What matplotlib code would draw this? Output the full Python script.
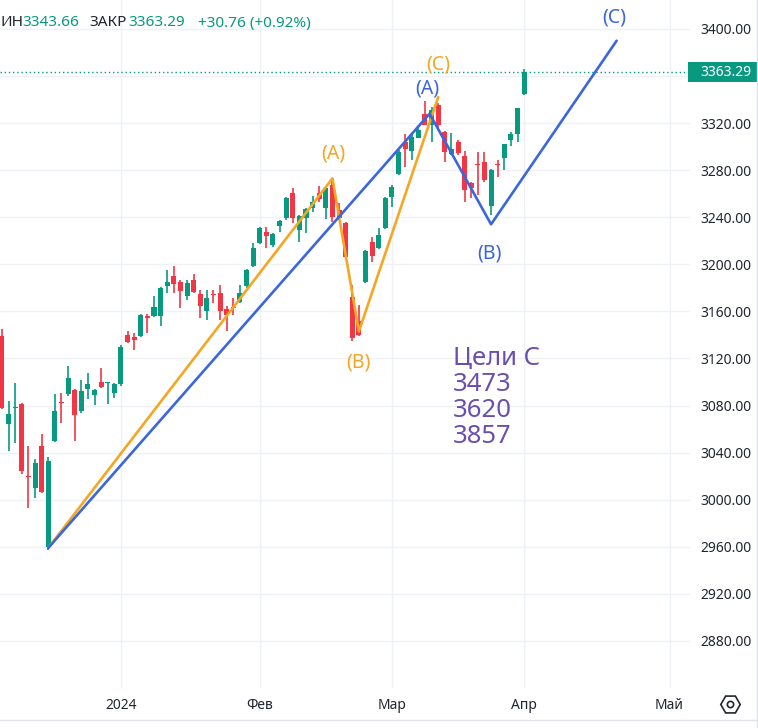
import matplotlib
matplotlib.use('Agg')
import matplotlib.pyplot as plt
from matplotlib import transforms
from matplotlib.lines import Line2D
from matplotlib.patches import Rectangle
import numpy as np

plt.rcParams['font.family'] = ['Noto Sans', 'DejaVu Sans']

# ---------------- data ----------------
opens = [3138.8, 3064.5, 3078.0, 3080.9, 3020.0, 3010.3, 3045.6, 2960.0, 3049.8, 3083.0,
         3089.4, 3093.0, 3075.3, 3093.9, 3088.8, 3099.8, 3099.2, 3090.8, 3098.4, 3139.7,
         3138.2, 3138.8, 3155.5, 3155.8, 3155.8, 3181.2, 3189.7, 3185.4, 3172.7, 3186.8,
         3175.0, 3160.0, 3174.8, 3175.5, 3162.3, 3163.5, 3167.9, 3181.2, 3199.0, 3217.9,
         3227.8, 3216.5, 3232.9, 3239.0, 3260.3, 3229.2, 3239.7, 3247.5, 3260.3, 3247.5,
         3267.4, 3246.2, 3234.8, 3171.9, 3151.5, 3184.8, 3219.3, 3213.6, 3230.6, 3257.5,
         3276.7, 3304.1, 3296.4, 3307.7, 3327.5, 3318.2, 3335.2, 3312.5, 3293.6, 3304.1,
         3292.2, 3269.3, 3285.2, 3287.1, 3249.6, 3285.2, 3290.0, 3306.0, 3311.1, 3344.5]
highs = [3144.7, 3083.7, 3099.2, 3082.0, 3045.6, 3034.6, 3056.0, 3036.5, 3089.4, 3090.8,
         3113.4, 3094.0, 3101.5, 3107.5, 3094.0, 3111.7, 3100.2, 3099.2, 3131.8, 3143.0,
         3141.6, 3158.0, 3157.7, 3172.7, 3180.5, 3195.3, 3199.0, 3186.8, 3186.8, 3191.6,
         3178.4, 3178.4, 3178.4, 3182.6, 3164.2, 3171.3, 3182.6, 3196.0, 3217.9, 3232.0,
         3232.0, 3227.0, 3237.5, 3257.5, 3264.5, 3242.0, 3247.5, 3258.3, 3266.5, 3266.0,
         3273.0, 3251.8, 3236.0, 3182.6, 3165.7, 3212.0, 3223.6, 3230.6, 3257.5, 3267.4,
         3297.0, 3310.6, 3310.6, 3316.8, 3338.6, 3333.7, 3336.7, 3313.0, 3311.7, 3305.5,
         3296.4, 3270.2, 3295.6, 3295.6, 3281.4, 3288.6, 3302.5, 3312.5, 3332.6, 3366.0]
lows = [3077.0, 3041.4, 3048.4, 3022.0, 2992.8, 3001.8, 3006.0, 2957.0, 3049.0, 3065.3,
        3088.0, 3049.8, 3074.0, 3085.4, 3080.3, 3095.0, 3081.4, 3086.0, 3097.0, 3133.0,
        3127.5, 3138.0, 3141.6, 3155.0, 3147.3, 3175.5, 3175.5, 3162.8, 3170.0, 3176.0,
        3154.3, 3152.9, 3167.0, 3152.9, 3143.0, 3157.2, 3167.0, 3180.0, 3198.0, 3217.0,
        3213.6, 3215.0, 3227.8, 3238.0, 3234.8, 3219.3, 3226.4, 3244.7, 3253.0, 3238.2,
        3236.3, 3238.0, 3205.0, 3135.2, 3138.8, 3184.0, 3202.4, 3213.0, 3230.0, 3249.0,
        3276.0, 3282.9, 3288.6, 3307.0, 3318.0, 3304.1, 3316.0, 3287.1, 3293.0, 3293.0,
        3253.2, 3256.0, 3258.9, 3270.2, 3241.9, 3274.6, 3280.0, 3300.4, 3304.0, 3343.66]
closes = [3077.8, 3073.0, 3079.0, 3024.4, 3019.2, 3031.4, 3006.9, 3032.9, 3075.3, 3082.0,
          3103.5, 3071.9, 3092.2, 3098.1, 3093.0, 3095.6, 3099.8, 3098.1, 3129.5, 3134.0,
          3135.4, 3157.2, 3154.7, 3163.6, 3179.7, 3184.6, 3183.1, 3177.5, 3184.0, 3176.4,
          3164.2, 3171.3, 3173.8, 3160.6, 3156.6, 3162.5, 3175.5, 3195.3, 3213.6, 3230.6,
          3224.4, 3225.5, 3236.9, 3256.0, 3239.0, 3241.4, 3247.0, 3252.6, 3255.5, 3264.5,
          3240.5, 3239.7, 3206.6, 3137.4, 3140.2, 3211.7, 3207.2, 3225.0, 3256.0, 3265.9,
          3295.6, 3298.4, 3308.3, 3314.0, 3318.2, 3330.9, 3318.2, 3295.6, 3298.4, 3294.2,
          3263.1, 3264.5, 3284.5, 3271.6, 3280.0, 3284.6, 3302.1, 3311.1, 3332.53, 3363.29]

month_pos = [18, 39, 59, 79, 101]
month_labels = ['2024', 'Фев', 'Мар', 'Апр', 'Май']
ytick_vals = list(range(2880, 3401, 40))
hidden_tick = 3360  # covered by the last-price label in the reference

orange_x = [7, 50, 54, 66]
orange_y = [2959, 3273, 3143, 3342]
orange_lbl_x = [50.1, 53.9, 66.0]
orange_lbl_y = [3294, 3117, 3370]
orange_lbl = ['(A)', '(B)', '(C)']

blue_x = [7, 64.7, 74, 93]
blue_y = [2959, 3328, 3234, 3390]
blue_lbl_x = [64.4, 73.8, 92.7]
blue_lbl_y = [3349, 3209, 3410]
blue_lbl = ['(A)', '(B)', '(C)']

targets_text = 'Цели С\n3473\n3620\n3857'
targets_x = 68.2
targets_y = 3131

hdr_low = '3343.66'
hdr_close = '3363.29'
hdr_change = '+30.76 (+0.92%)'
last_close = closes[-1]

# ---------------- style ----------------
GREEN = '#089981'
RED = '#f23645'
ORANGE = '#f5a623'
BLUE = '#3b66dc'
PURPLE = '#6b4fae'
GRID = '#eef1f6'
TXT = '#222631'

W, H = 758, 728
fig = plt.figure(figsize=(W / 100, H / 100), dpi=100)
fig.patch.set_facecolor('white')
ax = fig.add_axes([0, 1 - 688 / H, 690 / W, 688 / H])
ax.set_xlim(-0.3, 104.1)
ax.set_ylim(2840.0, 3424.6)
for s in ax.spines.values():
    s.set_visible(False)

# grid
ax.set_yticks(ytick_vals)
ax.set_yticklabels(['' if v == hidden_tick else f'{v:.2f}' for v in ytick_vals])
ax.set_xticks(month_pos)
ax.set_xticklabels(month_labels)
ax.grid(True, color=GRID, lw=1)
ax.set_axisbelow(True)
ax.yaxis.tick_right()
ax.tick_params(axis='y', length=0, pad=7.5, labelsize=10, labelcolor=TXT)
ax.tick_params(axis='x', length=0, pad=7, labelsize=10, labelcolor=TXT)
ax.get_xticklabels()[0].set_fontweight('bold')

# candles
x = np.arange(len(opens))
o = np.array(opens); c = np.array(closes); h = np.array(highs); l = np.array(lows)
cols = [GREEN if cc >= oo else RED for oo, cc in zip(o, c)]
ax.vlines(x, l, h, colors=cols, lw=1.2, zorder=3)
ax.bar(x, np.maximum(np.abs(c - o), 1.0), bottom=np.minimum(o, c), width=0.76,
       color=cols, zorder=3, linewidth=0)

# last price dotted line
ax.axhline(last_close, color=GREEN, lw=1, ls=(0, (1, 2)), zorder=2)

# waves
ax.plot(orange_x, orange_y, color=ORANGE, lw=1.9, zorder=4, solid_capstyle='round')
ax.plot(blue_x, blue_y, color=BLUE, lw=1.9, zorder=4, solid_capstyle='round')
for xx, yy, t in zip(orange_lbl_x, orange_lbl_y, orange_lbl):
    ax.text(xx, yy, t, color=ORANGE, fontsize=14, ha='center', va='center', zorder=5)
for xx, yy, t in zip(blue_lbl_x, blue_lbl_y, blue_lbl):
    ax.text(xx, yy, t, color=BLUE, fontsize=14, ha='center', va='center', zorder=5)

ax.text(targets_x, targets_y, targets_text, color=PURPLE, fontsize=18.5,
        ha='left', va='top', linespacing=1.06, zorder=5)

# last price label box
tr = transforms.blended_transform_factory(fig.transFigure, ax.transData)
ax.add_patch(Rectangle((688 / W, last_close - 8.6), 1 - 688 / W, 17.2, transform=tr,
                       facecolor=GREEN, edgecolor='none', clip_on=False, zorder=10))
ax.text(700 / W, last_close, f'{last_close:.2f}', transform=tr, color='white',
        fontsize=10, ha='left', va='center', clip_on=False, zorder=11)

# header
yb = 1 - 26.5 / H
fs_h = 11
fig.text(0 / W, yb, 'ИН', color=TXT, fontsize=fs_h, va='baseline')
fig.text(22 / W, yb, hdr_low, color=GREEN, fontsize=fs_h, va='baseline')
fig.text(89 / W, yb, 'ЗАКР', color=TXT, fontsize=fs_h, va='baseline')
fig.text(128 / W, yb, hdr_close, color=GREEN, fontsize=fs_h, va='baseline')
fig.text(198 / W, yb, hdr_change, color=GREEN, fontsize=fs_h, va='baseline')

# bottom border and settings icon
fig.add_artist(Line2D([0, 1], [1 - 720 / H, 1 - 720 / H], color='#e0e3eb', lw=1,
                      transform=fig.transFigure))
fig.add_artist(Line2D([1 - 1.5 / W, 1 - 1.5 / W], [0, 1], color='#e0e3eb', lw=1,
                      transform=fig.transFigure))
fig.add_artist(Line2D([730 / W], [1 - 704 / H], marker='H', ms=14, mfc='none', mec=TXT,
                      mew=1.2, transform=fig.transFigure))
fig.add_artist(Line2D([730 / W], [1 - 704 / H], marker='o', ms=4.5, mfc='none', mec=TXT,
                      mew=1.2, transform=fig.transFigure))

fig.savefig('out.png', dpi=100, facecolor='white')
